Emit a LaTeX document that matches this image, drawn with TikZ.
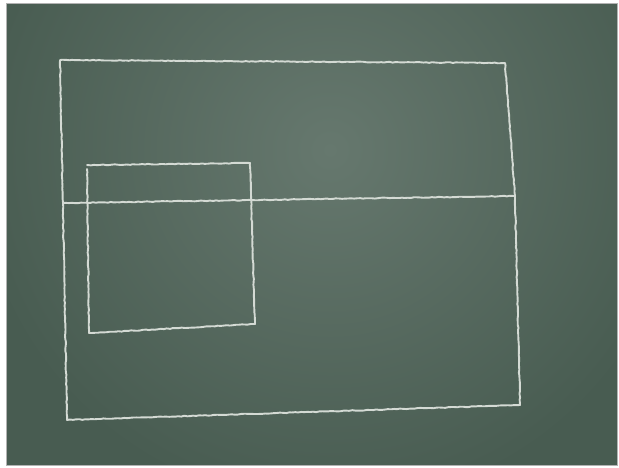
\documentclass[tikz,border=0pt]{standalone}
\usetikzlibrary{decorations.pathmorphing}
\definecolor{board}{RGB}{72,92,81}
\definecolor{boardlight}{RGB}{102,120,110}
\definecolor{chalk}{RGB}{212,218,212}
\begin{document}
\begin{tikzpicture}[x=1pt,y=-1pt,
  chalkline/.style={draw=chalk,line width=1.9pt,line join=round,line cap=round,
    decorate,decoration={random steps,segment length=3pt,amplitude=0.4pt}}]
\useasboundingbox (0,0) rectangle (619,467);
\fill[white] (0,0) rectangle (619,467);
\begin{scope}
\clip (6,3) rectangle (617,465);
\fill[board] (6,3) rectangle (617,465);
\shade[inner color=boardlight,outer color=board] (330,150) circle (360);
\end{scope}
\draw[gray!60,line width=0.6pt] (6,3) rectangle (617,465);
% outer frame
\coordinate (TL) at (60,60);
\coordinate (TR) at (505,63);
\coordinate (MR) at (515,196);
\coordinate (BR) at (520,405);
\coordinate (BL) at (67,420);
\coordinate (ML) at (63,203);
\draw[chalkline] (TL) -- (TR) -- (MR) -- (BR) -- (BL) -- (TL);
% horizontal divider
\draw[chalkline] (ML) -- (MR);
% inner rectangle
\coordinate (iTL) at (87,165);
\coordinate (iTR) at (250,163);
\coordinate (iBR) at (255,324);
\coordinate (iBL) at (89,333);
\draw[chalkline] (87,169) -- (iBL) -- (iBR) -- (iTR) -- (iTL);
\end{tikzpicture}
\end{document}
